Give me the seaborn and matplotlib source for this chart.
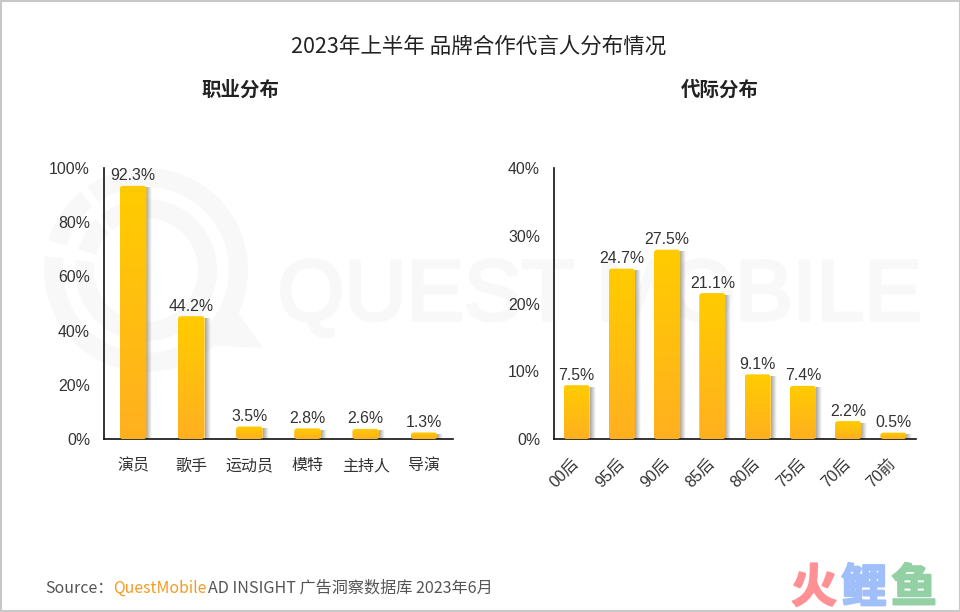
import matplotlib
matplotlib.use("Agg")
import matplotlib.pyplot as plt
from matplotlib.patches import FancyBboxPatch, Rectangle, Wedge, Polygon
import matplotlib.patheffects as pe
import numpy as np
import pandas as pd
import seaborn as sns

# 数据
jobs = ["演员", "歌手", "运动员", "模特", "主持人", "导演"]
job_values = [92.3, 44.2, 3.5, 2.8, 2.6, 1.3]
job_ticks = [0, 20, 40, 60, 80, 100]

ages = ["00后", "95后", "90后", "85后", "80后", "75后", "70后", "70前"]
age_values = [7.5, 24.7, 27.5, 21.1, 9.1, 7.4, 2.2, 0.5]
age_ticks = [0, 10, 20, 30, 40]

sns.set_theme(style="white")
plt.rcParams["font.family"] = ["Liberation Sans", "Noto Sans CJK SC", "DejaVu Sans"]
cjk = ["Noto Sans CJK SC", "DejaVu Sans"]
W, H = 960, 612
TEXT = "#333333"

fig = plt.figure(figsize=(W / 100, H / 100), dpi=100, facecolor="white")

# 背景层 (像素坐标)
bg = fig.add_axes([0, 0, 1, 1], zorder=0)
bg.set_xlim(0, W)
bg.set_ylim(H, 0)
bg.axis("off")
bg.add_patch(Rectangle((0.5, 0.5), W - 1, H - 1.5, fill=False, ec="#c8c8c8", lw=1.5))

# 水印
mark = "#f8f8f8"


def ring(r, w, a1, a2):
    # y 轴反向, 角度取负
    bg.add_patch(Wedge((146, 270), r, -a2, -a1, width=w, fc=mark, ec="none"))


ring(102, 19, 172, 485)
ring(102, 19, 130, 163)
ring(71, 19, 172, 490)
ring(71, 19, 135, 163)
bg.add_patch(Polygon([[233, 305], [263, 348], [205, 345], [190, 355], [215, 320]],
                     fc=mark, ec="none"))
bg.text(600, 298, "QUEST MOBILE", fontsize=62, color=mark, ha="center", va="center",
        family=["Liberation Sans"],
        path_effects=[pe.withStroke(linewidth=2.5, foreground=mark)])

# 标题
bg.text(479, 47, "2023年上半年 品牌合作代言人分布情况", fontsize=15.5, color="#222222",
        ha="center", va="center", family=cjk, fontweight="medium")
bg.text(240, 90, "职业分布", fontsize=14, color="#222222", ha="center", va="center",
        family=cjk, fontweight="bold")
bg.text(720, 90, "代际分布", fontsize=14, color="#222222", ha="center", va="center",
        family=cjk, fontweight="bold")

# 来源
bg.text(45, 588, "Source：", fontsize=11.5, color="#555555", va="center", family=cjk)
bg.text(113, 588, "QuestMobile", fontsize=11.4, color="#F59A23", va="center",
        family=["Noto Sans CJK SC"])
bg.text(208, 588, "AD INSIGHT 广告洞察数据库 2023年6月", fontsize=11.6, color="#555555",
        va="center", family=cjk)

# 右下角标识
for x, ch, c in zip([814, 864, 914], "火鲤鱼", ["#FF9094", "#A0BFFA", "#93D0A4"]):
    bg.text(x, 589, ch, fontsize=33, color=c, ha="center", va="center", family=cjk,
            fontweight="bold", path_effects=[pe.withStroke(linewidth=1.5, foreground=c)])

gradient = np.linspace(0, 1, 128).reshape(-1, 1)
cmap = matplotlib.colors.LinearSegmentedColormap.from_list("bar", ["#FFCC00", "#FFB020"])
shadow = np.linspace(1, 0, 32).reshape(1, -1)
shadow_cmap = matplotlib.colors.LinearSegmentedColormap.from_list(
    "shadow", [(0.5, 0.5, 0.5, 0.0), (0.5, 0.5, 0.5, 0.7)])


def draw_panel(box, names, values, ticks, width, rotation):
    left, top, right, bottom = box
    ax = fig.add_axes([left / W, 1 - bottom / H, (right - left) / W, (bottom - top) / H],
                      zorder=1)
    ax.patch.set_alpha(0)
    df = pd.DataFrame({"name": names, "value": values})
    sns.barplot(data=df, x="name", y="value", ax=ax, width=width, color="#FFCC00",
                saturation=1)
    ax.set_xlabel("")
    ax.set_ylabel("")
    ax.set_yticks(ticks)
    ax.set_yticklabels([f"{v}%" for v in ticks], fontsize=11.4, color=TEXT)
    ax.tick_params(axis="y", length=0, pad=10)
    ax.tick_params(axis="x", length=0, pad=16 if rotation else 14)
    for lab in ax.get_xticklabels():
        lab.set_fontsize(11.5)
        lab.set_color(TEXT)
        if rotation:
            lab.set_rotation(rotation)
            lab.set_rotation_mode("anchor")
            lab.set_ha("right")
            lab.set_va("center")
    sns.despine(ax=ax)
    for side in ["left", "bottom"]:
        ax.spines[side].set_color("#111111")
        ax.spines[side].set_linewidth(1.2)

    # 渐变圆角 + 阴影
    ymax = ticks[-1]
    px_x = (right - left) / len(names)
    px_y = (bottom - top) / ymax
    for bar, v in zip(list(ax.patches), values):
        x0, w = bar.get_x(), bar.get_width()
        bar.set_visible(False)
        h = v + 3 / px_y  # 圆角顶部比数值高一点
        ax.imshow(shadow, extent=(x0 + w, x0 + w + 6 / px_x, 0, h - 2 / px_y),
                  cmap=shadow_cmap, aspect="auto", zorder=2, vmin=0, vmax=1)
        im = ax.imshow(gradient, extent=(x0, x0 + w, 0, h), cmap=cmap, aspect="auto",
                       zorder=3, vmin=0, vmax=1)
        clip = FancyBboxPatch((x0, 0), w, h, mutation_aspect=px_x / px_y,
                              boxstyle=f"round,pad=0,rounding_size={3 / px_x}",
                              transform=ax.transData, fc="none", ec="none")
        ax.add_patch(clip)
        im.set_clip_path(clip)
        ax.text(x0 + w / 2, v + 5.5 / px_y, f"{v}%", ha="center", va="bottom",
                fontsize=11.4, color=TEXT, zorder=4, clip_on=False)
    ax.set_xlim(-0.5, len(names) - 0.5)
    ax.set_ylim(ticks[0], ticks[-1])
    return ax


draw_panel((104, 168, 453, 439), jobs, job_values, job_ticks, 0.46, 0)
draw_panel((554, 168, 916, 439), ages, age_values, age_ticks, 0.58, 45)

fig.savefig("out.png", dpi=100)
